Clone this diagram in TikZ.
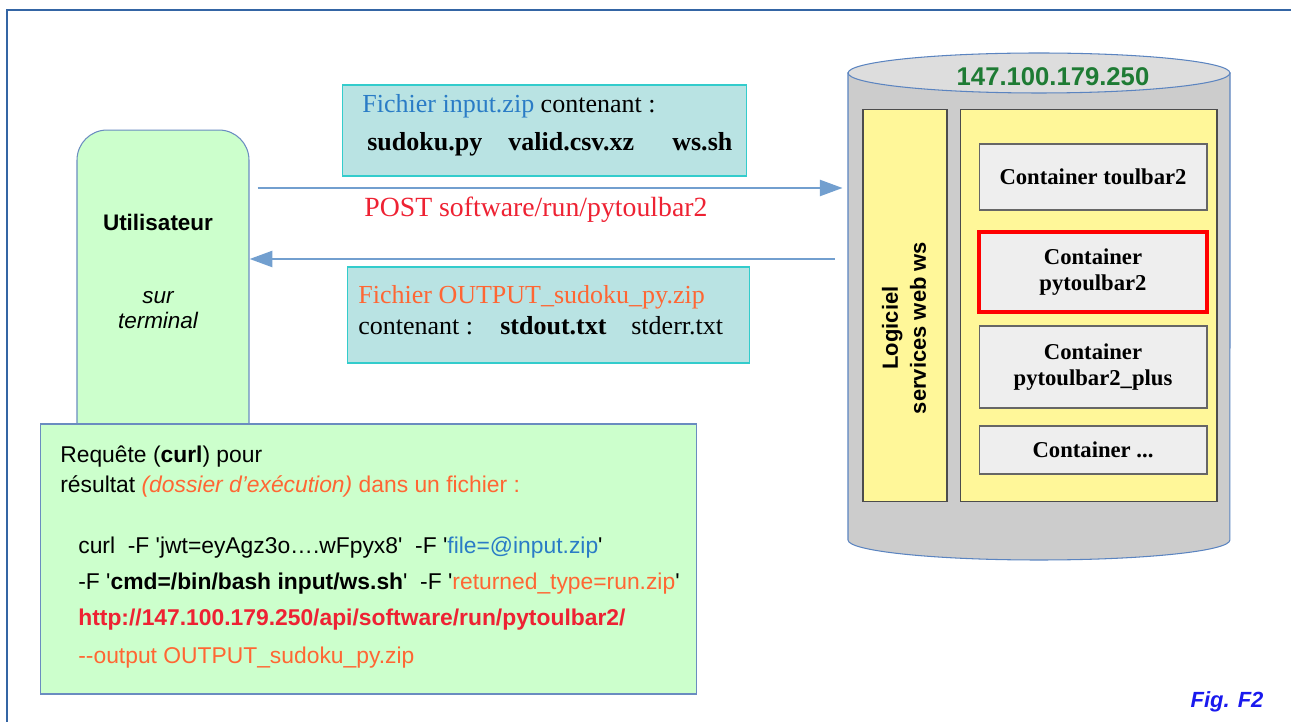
\documentclass[tikz,border=0pt]{standalone}
\usepackage{fontspec}
\setmainfont{Liberation Serif}
\setsansfont{Liberation Sans}
\newfontfamily\curlfont{Liberation Sans}
\usetikzlibrary{arrows.meta}
\definecolor{frameblue}{HTML}{3465A4}
\definecolor{mint}{HTML}{CCFFCC}
\definecolor{mintline}{HTML}{6A8CC0}
\definecolor{lagoon}{HTML}{B9E3E3}
\definecolor{lagoonline}{HTML}{33CCCC}
\definecolor{arrowblue}{HTML}{729FCF}
\definecolor{drum}{HTML}{CCCCCC}
\definecolor{drumtop}{HTML}{DDDDDD}
\definecolor{drumline}{HTML}{5B84C0}
\definecolor{lemon}{HTML}{FFF799}
\definecolor{boxgray}{HTML}{EEEEEE}
\definecolor{orng}{HTML}{FF6633}
\definecolor{postred}{HTML}{EE2233}
\definecolor{ipgreen}{HTML}{1E7B34}
\definecolor{fileblue}{HTML}{2A7CC6}
\definecolor{figblue}{HTML}{1A1AEE}
\tikzset{
  panel/.style={draw=#1, line width=0.6pt, inner sep=0pt},
  txt/.style={anchor=base west, inner sep=0pt},
  serif/.style={font=\fontsize{14.8}{18}\selectfont},
  sans/.style={font=\curlfont\fontsize{13}{16}\selectfont},
  cont/.style={panel=black!60, fill=boxgray, minimum width=4.56cm, align=center,
    font=\bfseries\fontsize{12.9}{15}\selectfont},
  flow/.style={draw=arrowblue, line width=1.7pt, -{Triangle[length=13pt,width=9pt]}}
}
\begin{document}
\begin{tikzpicture}[x=0.02cm,y=-0.02cm]
\useasboundingbox (0,0) rectangle (1291,722);
\draw[frameblue, line width=0.8pt] (7,722) -- (7,10) -- (1291,10);

\node[panel=mintline, fill=mint, rounded corners=0.6cm, minimum width=3.44cm,
  minimum height=6.6cm] (user) at (163,295) {};
\node[font=\sffamily\bfseries\fontsize{12.8}{15}\selectfont] (utilisateur) at (158,222) {Utilisateur};
\node[font=\sffamily\itshape\fontsize{12.8}{14}\selectfont, align=center] (terminal) at (158,310) {sur\\terminal};

\node[panel=mintline, fill=mint, minimum width=13.14cm, minimum height=5.4cm] (curl) at (368.5,559) {};
\node[txt, sans] (reqa) at (60,463) {Requête (\textbf{curl}) pour};
\node[txt, sans] (reqb) at (60,493) {résultat \textcolor{orng}{\textit{(dossier d’exécution)} dans un fichier :}};
\node[txt, sans] (cmda) at (78,553) {curl\ \ -F 'jwt=eyAgz3o….wFpyx8'\ \ -F '\textcolor{fileblue}{file=@input.zip}'};
\node[txt, sans] (cmdb) at (78,589) {-F '\textbf{cmd=/bin/bash input/ws.sh}'\ \ -F '\textcolor{orng}{returned\_type=run.zip}'};
\node[txt, sans, text=postred] (cmdc) at (78,625) {\textbf{http://147.100.179.250/api/software/run/pytoulbar2/}};
\node[txt, sans, text=orng] (cmdd) at (78,663) {--output OUTPUT\_sudoku\_py.zip};

\node[panel=lagoonline, fill=lagoon, minimum width=8.1cm, minimum height=1.82cm] (inzip) at (544.5,130.5) {};
\node[txt, serif] (intitle) at (362,113) {\textcolor{fileblue}{Fichier input.zip} contenant :};
\node[txt, serif] (sudoku) at (367,151) {\textbf{sudoku.py}};
\node[txt, serif] (valid) at (508,151) {\textbf{valid.csv.xz}};
\node[txt, serif] (wssh) at (672,151) {\textbf{ws.sh}};

\node[panel=lagoonline, fill=lagoon, minimum width=8.06cm, minimum height=1.92cm] (outzip) at (548.5,315) {};
\node[txt, serif, text=orng] (outtitle) at (358,304) {Fichier OUTPUT\_sudoku\_py.zip};
\node[txt, serif] (outcont) at (358,335) {contenant :};
\node[txt, serif] (stdout) at (500,335) {\textbf{stdout.txt}};
\node[txt, serif] (stderr) at (631,335) {stderr.txt};

\node[minimum width=7.64cm, minimum height=10.14cm, inner sep=0pt] (srv) at (1039,306.5) {};
\draw[drumline, fill=drum, line width=0.6pt] (848,73) -- (848,540)
  arc[start angle=180, end angle=360, x radius=3.82cm, y radius=0.4cm] -- (1230,73) -- cycle;
\draw[drumline, fill=drumtop, line width=0.6pt] (1039,73) ellipse [x radius=3.82cm, y radius=0.4cm];
\node[text=ipgreen, font=\sffamily\bfseries\fontsize{14.6}{16}\selectfont] (ip) at (1053,77) {147.100.179.250};
\node[panel=black!70, fill=lemon, minimum width=1.68cm, minimum height=7.86cm] (ws) at (905,305.5) {};
\node[rotate=90, align=center, font=\sffamily\bfseries\fontsize{12.5}{16}\selectfont] (wstxt) at (904,328) {Logiciel\\services web ws};
\node[panel=black!70, fill=lemon, minimum width=5.14cm, minimum height=7.86cm] (dock) at (1088.5,305.5) {};
\node[cont, minimum height=1.32cm] (toulbar) at (1093,177) {Container toulbar2};
\node[cont, draw=red, line width=2.1pt, minimum height=1.6cm] (pytoulbar) at (1093,272) {Container\\pytoulbar2};
\node[cont, minimum height=1.64cm] (plus) at (1093,367) {Container\\pytoulbar2\_plus};
\node[cont, minimum height=0.96cm] (other) at (1093,450) {Container ...};

\draw[flow] ([xshift=0.16cm]user.east |- 0,188) -- ([xshift=-0.1cm]srv.west |- 0,188);
\node[txt, text=postred, font=\fontsize{15.8}{18}\selectfont] (post) at (364,217) {POST software/run/pytoulbar2};
\draw[flow] ([xshift=-0.26cm]srv.west |- 0,259) -- (user.east |- 0,259);

\node[text=figblue, font=\sffamily\bfseries\itshape\fontsize{12.5}{14}\selectfont] (fig) at (1227,702) {Fig. F2};
\end{tikzpicture}
\end{document}
